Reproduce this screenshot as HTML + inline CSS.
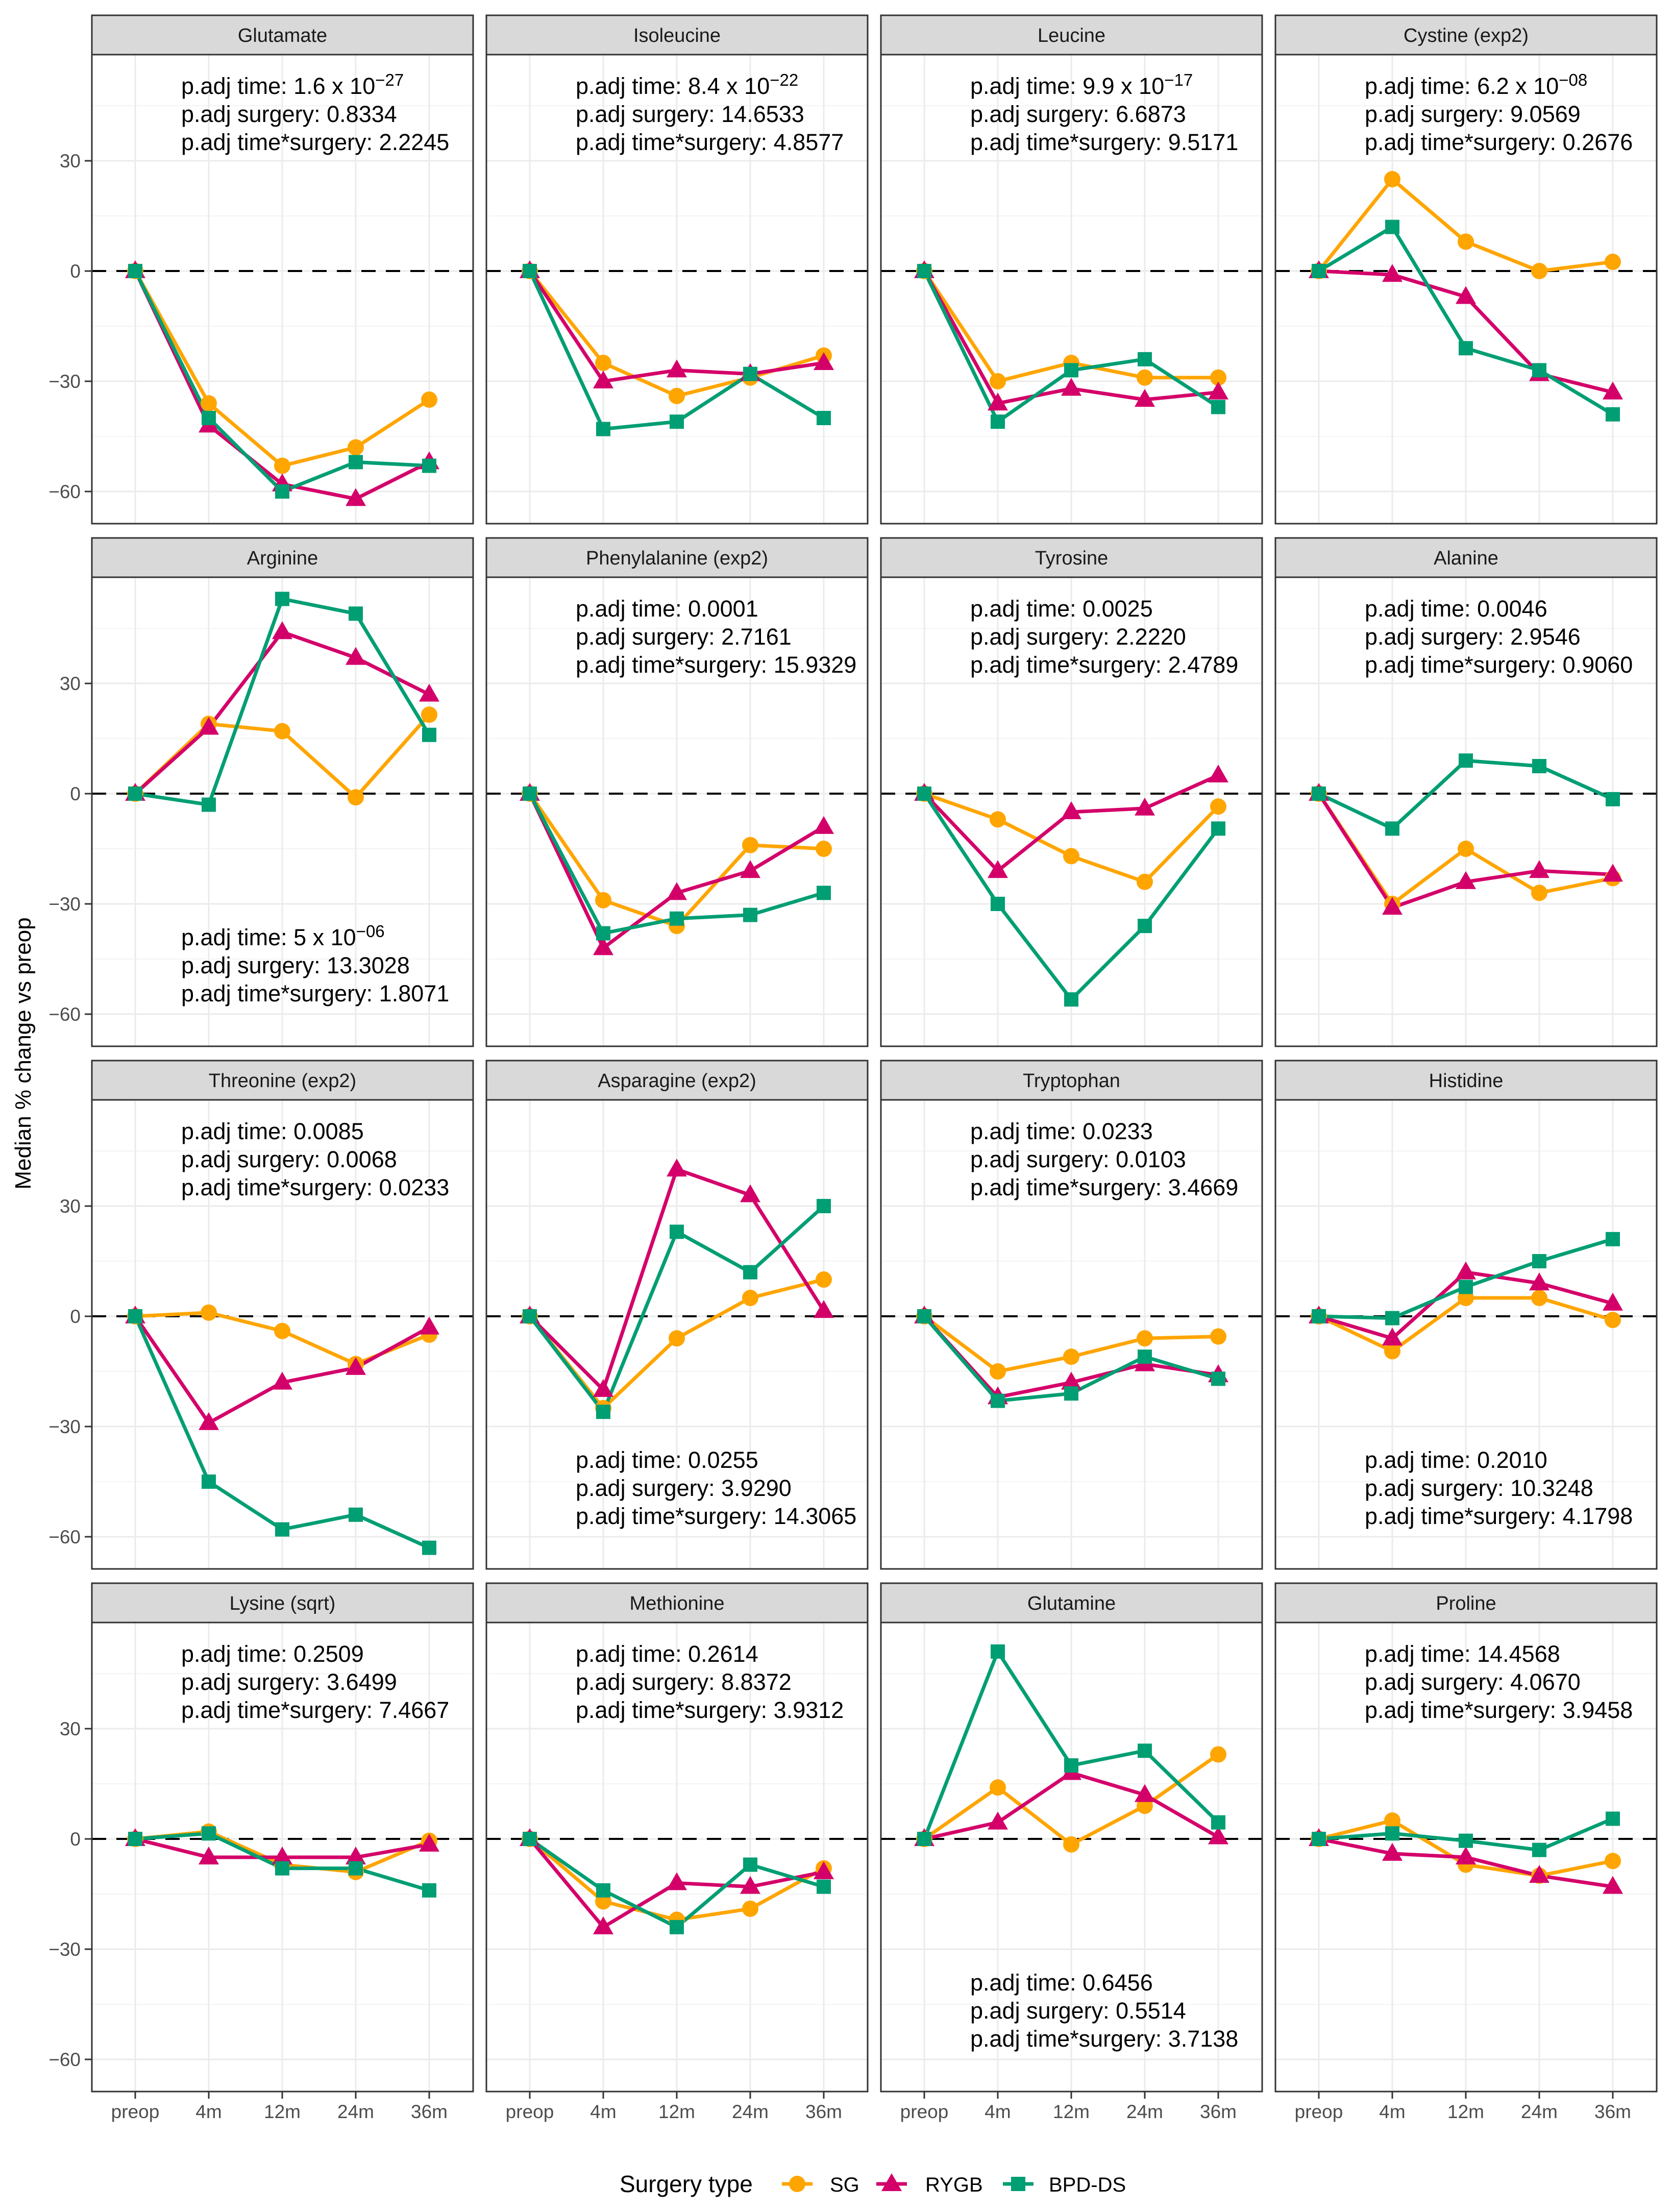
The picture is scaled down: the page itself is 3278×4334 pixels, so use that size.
<!DOCTYPE html>
<html><head><meta charset="utf-8">
<style>
html,body{margin:0;padding:0;background:#fff;}
svg{display:block;font-family:"Liberation Sans",Arial,sans-serif;}
</style></head>
<body>
<svg id="chart" width="3278" height="4334" viewBox="0 0 3278 4334" xmlns="http://www.w3.org/2000/svg">
<rect width="3278" height="4334" fill="#fff"/>
<text x="0" y="0" transform="translate(60,2064) rotate(-90)" text-anchor="middle" font-size="44" fill="#000">Median % change vs preop</text>
<g>
<text x="1214" y="4295" font-size="46" fill="#000">Surgery type</text>
<g>
<line x1="1532" y1="4279" x2="1592" y2="4279" stroke="#FFA500" stroke-width="7"/>
<circle cx="1562" cy="4279" r="16" fill="#FFA500"/>
<text x="1626" y="4294" font-size="40" fill="#000">SG</text></g>
<g>
<line x1="1717" y1="4279" x2="1777" y2="4279" stroke="#D4006A" stroke-width="7"/>
<polygon points="1747,4258 1767,4293 1727,4293" fill="#D4006A"/>
<text x="1813" y="4294" font-size="40" fill="#000">RYGB</text></g>
<g>
<line x1="1965" y1="4279" x2="2025" y2="4279" stroke="#009E73" stroke-width="7"/>
<rect x="1981" y="4265" width="28" height="28" fill="#009E73"/>
<text x="2055" y="4294" font-size="40" fill="#000">BPD-DS</text></g>
</g>
<g id="panels"></g>
</svg>
<script>
const categories = ["preop","4m","12m","24m","36m"];
const yTicks = [-60,-30,0,30];
const panelNames = ["Glutamate","Isoleucine","Leucine","Cystine (exp2)","Arginine","Phenylalanine (exp2)","Tyrosine","Alanine","Threonine (exp2)","Asparagine (exp2)","Tryptophan","Histidine","Lysine (sqrt)","Methionine","Glutamine","Proline"];
const sgValues = [
[0,-36,-53,-48,-35],[0,-25,-34,-29,-23],[0,-30,-25,-29,-29],[0,25,8,0,2.5],
[0,19,17,-1,21.5],[0,-29,-36,-14,-15],[0,-7,-17,-24,-3.5],[0,-30,-15,-27,-23],
[0,1,-4,-13,-5],[0,-25,-6,5,10],[0,-15,-11,-6,-5.5],[0,-9.5,5,5,-1],
[0,2,-7,-9,-0.5],[0,-17,-22,-19,-8],[0,14,-1.5,9,23],[0,5,-7,-10,-6]];
const rygbValues = [
[0,-42,-58,-62,-52],[0,-30,-27,-28,-25],[0,-36,-32,-35,-33],[0,-1,-7,-28,-33],
[0,18,44,37,27],[0,-42,-27,-21,-9],[0,-21,-5,-4,5],[0,-31,-24,-21,-22],
[0,-29,-18,-14,-3],[0,-20,40,33,1.5],[0,-22,-18,-13,-16],[0,-6,12,9,3.5],
[0,-5,-5,-5,-1.5],[0,-24,-12,-13,-9],[0,4.5,18,12,0.5],[0,-4,-5,-10,-13]];
const bpdValues = [
[0,-40,-60,-52,-53],[0,-43,-41,-28,-40],[0,-41,-27,-24,-37],[0,12,-21,-27,-39],
[0,-3,53,49,16],[0,-38,-34,-33,-27],[0,-30,-56,-36,-9.5],[0,-9.5,9,7.5,-1.5],
[0,-45,-58,-54,-63],[0,-26,23,12,30],[0,-23,-21,-11,-17],[0,-0.5,8,15,21],
[0,1.5,-8,-8,-14],[0,-14,-24,-7,-13],[0,51,20,24,4.5],[0,1.5,-0.5,-3,5.5]];
const pTime = [["1.6 x 10","\u221227"],["8.4 x 10","\u221222"],["9.9 x 10","\u221217"],["6.2 x 10","\u221208"],["5 x 10","\u221206"],["0.0001",null],["0.0025",null],["0.0046",null],["0.0085",null],["0.0255",null],["0.0233",null],["0.2010",null],["0.2509",null],["0.2614",null],["0.6456",null],["14.4568",null]];
const pSurgery = ["0.8334","14.6533","6.6873","9.0569","13.3028","2.7161","2.2220","2.9546","0.0068","3.9290","0.0103","10.3248","3.6499","8.8372","0.5514","4.0670"];
const pInter = ["2.2245","4.8577","9.5171","0.2676","1.8071","15.9329","2.4789","0.9060","0.0233","14.3065","3.4669","4.1798","7.4667","3.9312","3.7138","3.9458"];
const annotBottom = [false,false,false,false,true,false,false,false,false,true,false,true,false,false,true,false];

const NS="http://www.w3.org/2000/svg";
const root=document.getElementById('panels');
function mk(tag,attrs,parent){const e=document.createElementNS(NS,tag);for(const k in attrs)e.setAttribute(k,attrs[k]);parent.appendChild(e);return e;}
const PW=747, colPitch=773, rowPitch=1024, stripH=77, plotH=919;
const yMax=58.9, yMin=-68.75;
const colors={sg:"#FFA500",rygb:"#D4006A",bpd:"#009E73"};

panelNames.forEach((name,i)=>{
  const col=i%4,row=Math.floor(i/4);
  const L=180+col*colPitch, T=30+row*rowPitch, PT=T+stripH, PB=PT+plotH;
  const xs=k=>L+85+k*144;
  const ys=v=>PT+(yMax-v)/(yMax-yMin)*plotH;
  const g=mk('g',{},root);
  
  
  const strip=mk('rect',{x:L,y:T,width:PW,height:stripH,fill:"#d9d9d9",stroke:"#333",'stroke-width':3},g);
  
  
  const st=mk('text',{x:L+PW/2,y:T+52,'text-anchor':'middle','font-size':38,fill:'#1a1a1a'},g);
  st.textContent=name;
  
  
  mk('rect',{x:L,y:PT,width:PW,height:plotH,fill:'#fff'},g);
  [-45,-15,15,45].forEach(v=>mk('line',{x1:L,x2:L+PW,y1:ys(v),y2:ys(v),stroke:'#f0f0f0','stroke-width':1.5},g));
  yTicks.forEach(v=>mk('line',{x1:L,x2:L+PW,y1:ys(v),y2:ys(v),stroke:'#ebebeb','stroke-width':3},g));
  categories.forEach((c,k)=>mk('line',{x1:xs(k),x2:xs(k),y1:PT,y2:PB,stroke:'#ebebeb','stroke-width':3},g));
  mk('line',{x1:L,x2:L+PW,y1:ys(0),y2:ys(0),stroke:'#000','stroke-width':4,'stroke-dasharray':'28 20'},g);
  const ax=L+175;
  const base=annotBottom[i]?T+798:T+154;
  const t1=mk('text',{x:ax,y:base,'font-size':45,fill:'#000'},g);
  
  
  t1.appendChild(document.createTextNode('p.adj time: '+pTime[i][0]));
  if(pTime[i][1]){const ts=mk('tspan',{dy:-16,'font-size':33},t1);ts.textContent=pTime[i][1];}
  const t2=mk('text',{x:ax,y:base+55,'font-size':45,fill:'#000'},g);
  t2.textContent='p.adj surgery: '+pSurgery[i];
  
  
  const t3=mk('text',{x:ax,y:base+110,'font-size':45,fill:'#000'},g);
  t3.textContent='p.adj time*surgery: '+pInter[i];
  
  
  const series=[["sg",sgValues[i]],["rygb",rygbValues[i]],["bpd",bpdValues[i]]];
  series.forEach(([key,vals])=>{
    const pl=mk('polyline',{points:vals.map((v,k)=>xs(k)+','+ys(v)).join(' '),fill:'none',stroke:colors[key],'stroke-width':7,'stroke-linejoin':'round'},g);
    
    
  });
  series.forEach(([key,vals])=>{
    vals.forEach((v,k)=>{
      const cx=xs(k),cy=ys(v);let m;
      if(key==='sg') m=mk('circle',{cx:cx,cy:cy,r:16,fill:colors.sg},g);
      else if(key==='rygb') m=mk('polygon',{points:`${cx},${cy-21} ${cx+20},${cy+14} ${cx-20},${cy+14}`,fill:colors.rygb},g);
      else m=mk('rect',{x:cx-14,y:cy-14,width:28,height:28,fill:colors.bpd},g);
      
      
    });
  });
  mk('rect',{x:L,y:PT,width:PW,height:plotH,fill:'none',stroke:'#333','stroke-width':3},g);
  if(col===0){
    yTicks.forEach(v=>{
      mk('line',{x1:L-14,x2:L,y1:ys(v),y2:ys(v),stroke:'#333','stroke-width':3},g);
      const tl=mk('text',{x:L-22,y:ys(v)+13,'text-anchor':'end','font-size':37,fill:'#4d4d4d'},g);
      tl.textContent=v<0?'\u2212'+Math.abs(v):String(v);
      
      
    });
  }
  if(row===3){
    categories.forEach((c,k)=>{
      mk('line',{x1:xs(k),x2:xs(k),y1:PB,y2:PB+14,stroke:'#333','stroke-width':3},g);
      const tl=mk('text',{x:xs(k),y:PB+52,'text-anchor':'middle','font-size':37,fill:'#4d4d4d'},g);
      tl.textContent=c;
      
      
    });
  }
});
</script>
</body></html>
